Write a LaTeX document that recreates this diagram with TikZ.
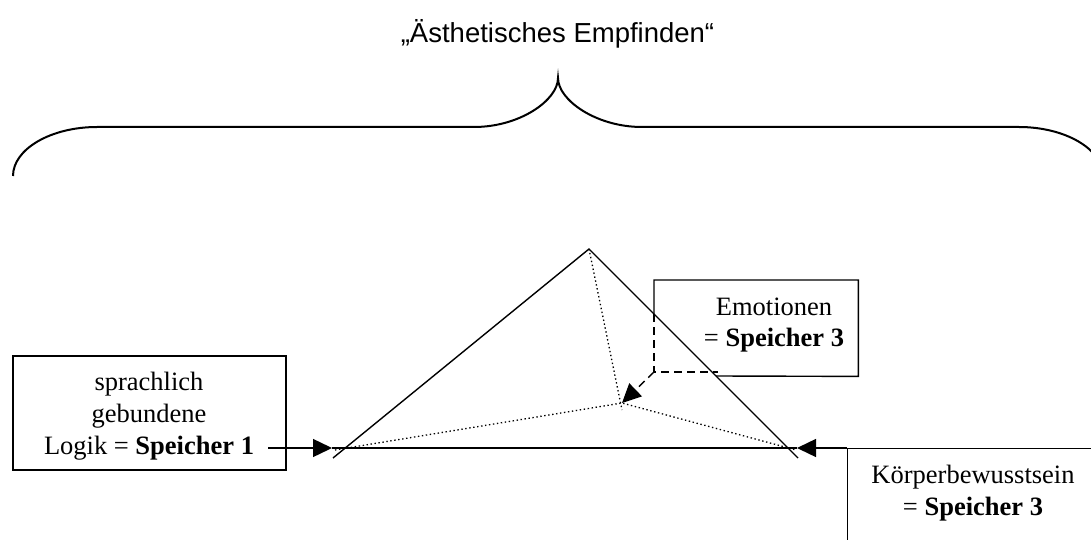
\documentclass[tikz,border=0pt]{standalone}
\usepackage{fontspec}
\setmainfont{Liberation Serif}
\newfontfamily\headfont{Liberation Sans}
\usetikzlibrary{arrows.meta}

\begin{document}
\begin{tikzpicture}[x=1pt,y=-1pt,
  stroke/.style={line width=1.4pt},
  bracestroke/.style={line width=2pt},
  boxframe/.style={draw, line width=1.4pt, inner sep=0pt},
  boxtext/.style={font=\fontsize{26.5}{31.7}\selectfont, align=center, inner sep=0pt},
  arrowtip/.style={-{Triangle[length=19pt,width=18pt]}},
  hiddenline/.style={line width=1.4pt, dash pattern=on 8pt off 5pt},
  ridge/.style={line width=1.3pt, dash pattern=on 1.4pt off 2.6pt},
]
\fill[white] (0,0) rectangle (1091,540);
\useasboundingbox (0,0) rectangle (1091,540);
\clip (0,0) rectangle (1091,540);

% heading above the brace
\node[font=\headfont\fontsize{27.5}{33}\selectfont, anchor=base, inner sep=0pt] (title) at (557.5,43) {„Ästhetisches Empfinden“};

% curly brace spanning the whole width
\coordinate (braceL) at (13,176);
\coordinate (braceTip) at (558,78);
\coordinate (braceR) at (1103,176);
\draw[bracestroke] (braceL) .. controls (13,149) and (51,127) .. (97,127) -- (474,127)
  .. controls (520,127) and (558,100) .. (braceTip)
  .. controls (558,100) and (596,127) .. (642,127) -- (1019,127)
  .. controls (1065,127) and (1103,149) .. (braceR);

% pyramid
\coordinate (apex) at (589,249);
\coordinate (footL) at (333,458);
\coordinate (footR) at (798,458);
\coordinate (core) at (622,403);
\coordinate (baseL) at (332,448);
\coordinate (baseR) at (797,448);
\coordinate (ridgeL) at (335,450);
\coordinate (ridgeR) at (796,450);
\coordinate (ridgeLow) at (622,410);
\draw[stroke] (footL) -- (apex) -- (footR);
\draw[stroke] (baseL) -- (baseR);
\draw[ridge] (ridgeL) -- (core) -- (ridgeR);
\draw[ridge] (apex) -- (ridgeLow);

% left box: language-bound logic
\node[boxframe, minimum width=273, minimum height=114] (logikBox) at (149.5,413) {};
\node[boxtext] (logikText) at (149,416) {sprachlich\\gebundene\\Logik = \textbf{Speicher 1}};
\coordinate (logikOut) at (268,448);
\draw[stroke, arrowtip] (logikOut) -- (baseL);

% right box: body awareness
\node[boxframe, minimum width=300, minimum height=150, anchor=north west] (koerperBox) at (847,448) {};
\node[boxtext] (koerperText) at (973,493) {Körperbewusstsein\\= \textbf{Speicher 3}};
\draw[stroke, arrowtip] (koerperBox.north west) -- (baseR);

% emotions box, partly hidden behind the pyramid face
\node[minimum width=204, minimum height=96, inner sep=0pt, anchor=north west] (emoBox) at (654,280) {};
\node[boxtext] (emoText) at (774,325) {Emotionen\\= \textbf{Speicher 3}};
\coordinate (emoCutL) at (654,314);
\coordinate (emoCutB) at (716,376);
\coordinate (emoCorner) at (654,372);
\coordinate (emoCutB2) at (718,372);
\draw[stroke] (emoCutL) -- (emoBox.north west) -- (emoBox.north east) -- (emoBox.south east) -- (emoCutB);
\draw[hiddenline] (emoCutL) -- (emoCorner) -- (emoCutB2);
\draw[hiddenline, arrowtip] (emoCorner) -- (core);
\end{tikzpicture}
\end{document}
